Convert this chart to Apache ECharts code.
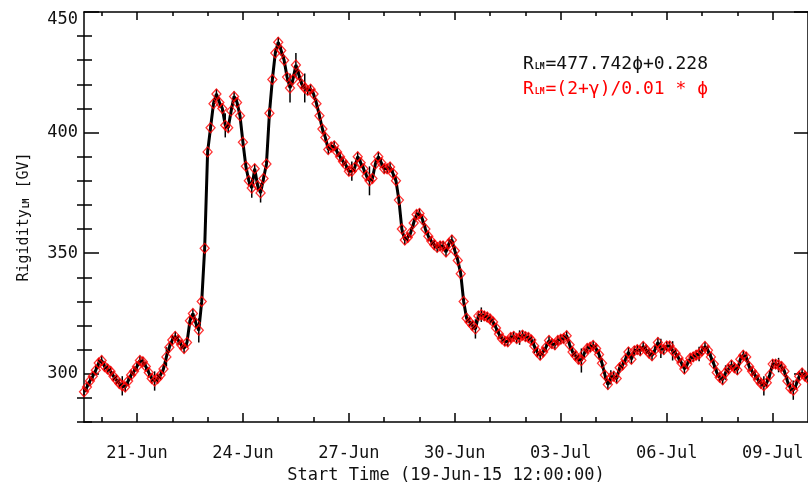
<!DOCTYPE html>
<html><head><meta charset="utf-8">
<script src="https://cdn.jsdelivr.net/npm/echarts@6/dist/echarts.min.js"></script>
<style>html,body{margin:0;padding:0;background:#fff}#c{width:808px;height:489px}</style>
</head><body><div id="c"></div>
<script>
// Start time of the series: 19-Jun-15 12:00:00, one value every 2 hours
const startLabel = 'Start Time (19-Jun-15 12:00:00)';
const stepHours = 2;
const rigidity = [
292.5,294.5,297,299,301.5,304.5,305.5,303,302,301,
299,297.5,296,295,294.5,297,299.5,301,303,305.5,
305,303,300.5,298,297,298,299.5,302,307,311,
314,315.5,314,312,310.5,313,322,325,321,318,
330,352,392,402,412,416,412.5,410,403,402,
409,415,412.5,407,396,386,380,377,385,378,
375,381,387,408,422,433,437.5,434,430,423,
418.5,422,428,424,420,418.5,417.5,418,416,412,
407,401.5,398,393,394,394.5,392,390,388,386.5,
384,384,385.5,390,387.5,385,382,380,381,387,
390,387.5,385,385,385.7,383,380,372,360,355.5,
356.5,358.5,362.5,366,366.5,364,360,357,355,353.5,
352.4,353,353,350.5,354,355.5,351,347,341.5,330,
323,321.5,320,318.6,324,324.5,324,323.5,322.7,321.5,
319,316.5,314.5,313.5,313.3,315,315.5,314.6,315,316,
315.4,315,314,311.5,309,307.7,309,311,313.8,312.5,
312,313.8,314.3,314.6,315.8,312,309,307.5,306,305.5,
308.5,310.5,311,311.7,310.5,308,304.4,299.5,295.5,298.5,
299,298,302.5,303.6,306,309,306,309.5,310,309.5,
311.3,310,308.5,307.5,310,313,310.5,310,311.5,311.5,
309.5,308.5,306.5,304.5,302,304,306.4,307,307.7,308.2,
309.5,311.3,309.7,307,304,300.5,298.5,297.5,300.5,302,
303.6,302.5,301.6,306,307.7,307,303,301,299.5,297.5,
296,295,296.3,299.5,304,304,303.6,303,301,297,
294,293.2,295.5,299,300.3,299,298];
const errors = [
2,2,2,2,2,2,2,2,2,2,
2,2,2,4,2,2,2,2,2,2,
2,2,2,2,4,2,2,2,4,2,
2,2,2,2,2,2,2,2,2,5,
2,2,2,2,2,2,2,2,5,2,
2,2,2,2,2,2,2,4,2,2,
4,2,2,2,2,2,2,2,2,2,
6,2,5,2,2,6,2,2,2,2,
2,2,2,2,2,2,2,2,2,2,
2,4,2,2,2,2,2,6,2,2,
2,2,2,2,2,2,2,2,2,2,
2,2,2,2,2,2,2,2,2,2,
2,2,2,2,2,2,2,2,2,2,
2,2,2,4,2,3,2,2,2,2,
2,2,2,2,2,2,2,2,3,2,
2,2,2,3,2,2,2,2,2,2,
2,2,2,2,2,2,2,2,2,5,
2,2,2,2,2,2,2,2,2,3,
2,2,2,2,2,2,2,2,2,2,
2,2,2,2,2,2,4,2,2,2,
4,2,2,2,2,2,2,2,2,3,
2,2,2,2,2,2,2,2,3,2,
2,2,2,2,2,2,2,2,2,2,
2,4,2,2,2,2,3,2,2,2,
2,4,2,2,2,2,2];
const tickLabels = ['21-Jun','24-Jun','27-Jun','30-Jun','03-Jul','06-Jul','09-Jul'];
const tickHours = [36,108,180,252,324,396,468];
const dayHours = [12,36,60,84,108,132,156,180,204,228,252,276,300,324,348,372,396,420,444,468];
const xMaxHours = 492;
const yMajor = [300,350,400,450];
const yMinor = [280,290,310,320,330,340,360,370,380,390,410,420,430,440];
const yMin = 280, yMax = 450;

const FONT = 'DejaVu Sans Mono';
const TXT = '#111';
const hours = rigidity.map((_, i) => i * stepHours);
const points = rigidity.map((v, i) => [hours[i], v]);
const bars = rigidity.map((v, i) => [hours[i], v - errors[i], v + errors[i]]);

function xAx(pos, values, len, extra) {
  return Object.assign({
    type: 'value', min: 0, max: xMaxHours, position: pos, gridIndex: 0,
    axisLine: {show: false},
    axisTick: {show: true, inside: true, length: len, customValues: values, lineStyle: {color: '#000', width: 1.5}},
    axisLabel: {show: false}, splitLine: {show: false}
  }, extra || {});
}
function yAx(pos, values, len, extra) {
  return Object.assign({
    type: 'value', min: yMin, max: yMax, position: pos, gridIndex: 0,
    axisLine: {show: false},
    axisTick: {show: true, inside: true, length: len, customValues: values, lineStyle: {color: '#000', width: 1.5}},
    axisLabel: {show: false}, splitLine: {show: false}
  }, extra || {});
}

const chart = echarts.init(document.getElementById('c'), null, {renderer: 'canvas'});
chart.setOption({
  animation: false,
  backgroundColor: '#fff',
  grid: {left: 84, right: 0, top: 12, bottom: 59, containLabel: false},
  xAxis: [
    xAx('bottom', tickHours, 9, {
      axisLine: {show: true, onZero: false, lineStyle: {color: '#000', width: 1.5}},
      axisLabel: {show: true, customValues: tickHours, margin: 23,
        formatter: v => tickLabels[tickHours.indexOf(v)] || '',
        fontFamily: FONT, fontSize: 17, color: TXT},
      name: startLabel, nameLocation: 'middle', nameGap: 45,
      nameTextStyle: {fontFamily: FONT, fontSize: 17, color: TXT}
    }),
    xAx('bottom', dayHours, 5),
    xAx('top', tickHours, 8, {axisLine: {show: true, onZero: false, lineStyle: {color: '#000', width: 1.5}}}),
    xAx('top', dayHours, 4)
  ],
  yAxis: [
    yAx('left', yMajor, 15, {
      axisLine: {show: true, onZero: false, lineStyle: {color: '#000', width: 1.5}},
      axisLabel: {show: true, customValues: yMajor, margin: 6,
        formatter: v => v === 450 ? '{t|450}' : String(v),
        fontFamily: FONT, fontSize: 17, color: TXT,
        rich: {t: {fontFamily: FONT, fontSize: 17, color: TXT, padding: [16, 0, 0, 0]}}},
      name: 'Rigidity{s|LM} [GV]', nameLocation: 'middle', nameGap: 52, nameRotate: 90,
      nameTextStyle: {fontFamily: FONT, fontSize: 15, color: TXT,
        rich: {s: {fontFamily: FONT, fontSize: 8, fontWeight: 'bold', color: TXT, padding: [4, 1, 0, 1]}}}
    }),
    yAx('left', yMinor, 8),
    yAx('right', yMajor, 14, {axisLine: {show: true, onZero: false, lineStyle: {color: '#000', width: 1.5}}}),
    yAx('right', yMinor, 7)
  ],
  graphic: [
    {type: 'text', left: 523, top: 55, z: 10, style: {
      text: 'R{s|LM}=477.742ϕ+0.228', fontFamily: FONT, fontSize: 18, fill: TXT,
      rich: {s: {fontFamily: FONT, fontSize: 8, fontWeight: 'bold', fill: TXT, padding: [6, 1, 0, 1]}}}},
    {type: 'text', left: 523, top: 80, z: 10, style: {
      text: 'R{s|LM}=(2+γ)/0.01 * ϕ', fontFamily: FONT, fontSize: 18, fill: '#ff0000',
      rich: {s: {fontFamily: FONT, fontSize: 8, fontWeight: 'bold', fill: '#ff0000', padding: [6, 1, 0, 1]}}}}
  ],
  series: [
    {type: 'custom', xAxisIndex: 0, yAxisIndex: 0, data: bars, z: 2, silent: true,
      renderItem: (params, api) => {
        const p1 = api.coord([api.value(0), api.value(1)]);
        const p2 = api.coord([api.value(0), api.value(2)]);
        return {type: 'line', shape: {x1: p1[0], y1: p1[1], x2: p2[0], y2: p2[1]},
          style: {stroke: '#000', lineWidth: 1.5}};
      }},
    {type: 'line', xAxisIndex: 0, yAxisIndex: 0, data: points, z: 3, silent: true,
      showSymbol: false, symbol: 'none', lineStyle: {color: '#000', width: 3}},
    {type: 'scatter', xAxisIndex: 0, yAxisIndex: 0, data: points, z: 4, silent: true,
      symbol: 'diamond', symbolSize: [9, 10],
      itemStyle: {color: 'rgba(0,0,0,0)', borderColor: '#ff0000', borderWidth: 1.3}}
  ]
});
</script></body></html>
